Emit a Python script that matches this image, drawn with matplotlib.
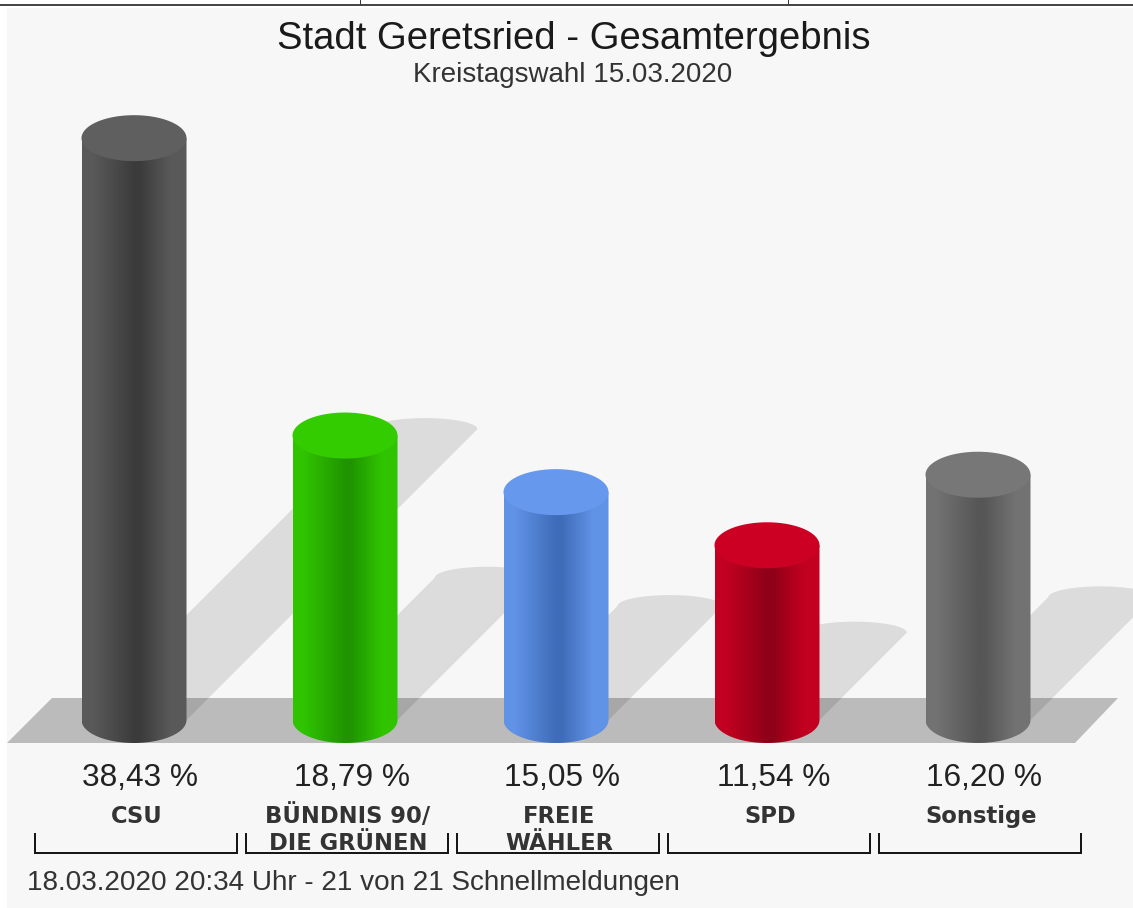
import numpy as np
import matplotlib
matplotlib.use("Agg")
import matplotlib.pyplot as plt
from matplotlib.patches import Polygon, Rectangle, PathPatch
from matplotlib.path import Path
from matplotlib.colors import LinearSegmentedColormap, to_rgb

plt.rcParams['font.family'] = ['Liberation Sans', 'DejaVu Sans']

categories = ["CSU", "BÜNDNIS 90/\nDIE GRÜNEN", "FREIE\nWÄHLER", "SPD", "Sonstige"]
values = [38.43, 18.79, 15.05, 11.54, 16.20]
top_colors = ["#5f5f5f", "#33cc00", "#6699ee", "#cc0022", "#777777"]
dark_colors = ["#3b3b3b", "#1f9400", "#3f6cb8", "#8e0018", "#565656"]
title = "Stadt Geretsried - Gesamtergebnis"
subtitle = "Kreistagswahl 15.03.2020"
footer = "18.03.2020 20:34 Uhr - 21 von 21 Schnellmeldungen"

W, H = 1133, 908
X0, STEP = 134.0, 211.0     # pixel x of first bar, pixel step between bars
Y0, SCALE = 720.0, 15.14    # pixel y of value zero, pixels per percent
HW, HH = 52.5, 23.0         # half width / half height of the cylinder ellipse


def X(px):
    return (np.asarray(px, float) - X0) / STEP


def Y(py):
    return (Y0 - np.asarray(py, float)) / SCALE


fig = plt.figure(figsize=(W / 100, H / 100), dpi=100, facecolor="white")
ax = fig.add_axes([0, 0, 1, 1])
ax.set_xlim(X(0), X(W))
ax.set_ylim(Y(H), Y(0))
ax.axis("off")

# panel background and page rule
ax.add_patch(Rectangle((X(7), Y(H)), X(W) - X(7), Y(8) - Y(H), fc="#f7f7f7", ec="none", zorder=0))
ax.plot(X([0, W]), Y([4.5, 4.5]), color="#111111", lw=1.1, zorder=1)
for tx in (360, 788):
    ax.plot(X([tx, tx]), Y([0, 4]), color="#333333", lw=0.7, zorder=1)

# floor
floor = np.array([[7, 743], [52, 698], [1118, 698], [1075, 743]], float)
ax.add_patch(Polygon(np.c_[X(floor[:, 0]), Y(floor[:, 1])], fc="#bbbbbb", ec="none", zorder=1))

t = np.linspace(0, np.pi, 60)
# cast shadows
for i, v in enumerate(values):
    cx = X0 + i * STEP
    d = 0.5 * v * SCALE
    scx, scy = cx + d, Y0 - d
    arc_x = scx + HW * np.cos(t[::-1])
    arc_y = scy - 11 * np.sin(t[::-1])
    xs = np.r_[cx - HW, arc_x, cx + HW]
    ys = np.r_[Y0, arc_y, Y0]
    ax.add_patch(Polygon(np.c_[X(xs), Y(ys)], fc="#000000", alpha=0.105, ec="none", zorder=2))

# cylinders
for i, (v, top, dark) in enumerate(zip(values, top_colors, dark_colors)):
    edge = tuple(0.85 * a + 0.15 * b for a, b in zip(to_rgb(top), to_rgb(dark)))
    cmap = LinearSegmentedColormap.from_list(
        f"c{i}", [(0, edge), (0.1, edge), (0.5, dark), (0.55, dark), (0.85, edge), (1, edge)])
    grad = np.linspace(0, 1, 256)[None, :]
    im = ax.imshow(grad, cmap=cmap, aspect="auto", zorder=3, interpolation="bilinear",
                   extent=[i - HW / STEP, i + HW / STEP, -HH / SCALE, v])
    # body: straight sides, round bottom, top closed by the ellipse
    xs = np.r_[i - HW / STEP, (i + HW / STEP * np.cos(t[::-1])), i + HW / STEP]
    ys = np.r_[v, -HH / SCALE * np.sin(t[::-1]), v]
    clip = PathPatch(Path(np.c_[xs, ys]), transform=ax.transData, fc="none", ec="none")
    ax.add_patch(clip)
    im.set_clip_path(clip)
    a = np.linspace(0, 2 * np.pi, 120)
    ax.add_patch(Polygon(np.c_[i + HW / STEP * np.cos(a), v + HH / SCALE * np.sin(a)],
                         fc=top, ec="none", zorder=4))

ax.set_xlim(X(0), X(W))
ax.set_ylim(Y(H), Y(0))

# texts
ink = "#222222"
ax.text(X(574), Y(39.5), title, ha="center", va="center", fontsize=27.5, color="#1a1a1a", zorder=6)
ax.text(X(572.5), Y(75), subtitle, ha="center", va="center", fontsize=20, color="#333333", zorder=6)
for i, v in enumerate(values):
    ax.text(i + 6.5 / STEP, Y(777.5), f"{v:.2f} %".replace(".", ","), ha="center", va="center",
            fontsize=22.8, color=ink, zorder=6)
    lines = categories[i].split("\n")
    for j, line in enumerate(lines):
        ax.text(i + 3 / STEP, Y(816.5 + j * 27), line, ha="center", va="center",
                fontsize=16.3, family="DejaVu Sans", weight="bold", color="#333333", zorder=6)
    cx = X0 + i * STEP + 2
    bx = X(np.array([cx - 101, cx - 101, cx + 101, cx + 101]))
    ax.plot(bx, Y([834, 853, 853, 834]), color="#111111", lw=1.4, zorder=6,
            solid_joinstyle="miter")
ax.text(X(27), Y(883), footer, ha="left", va="center", fontsize=20.1, color="#333333", zorder=6)

fig.savefig("out.png", dpi=100, facecolor="white")
